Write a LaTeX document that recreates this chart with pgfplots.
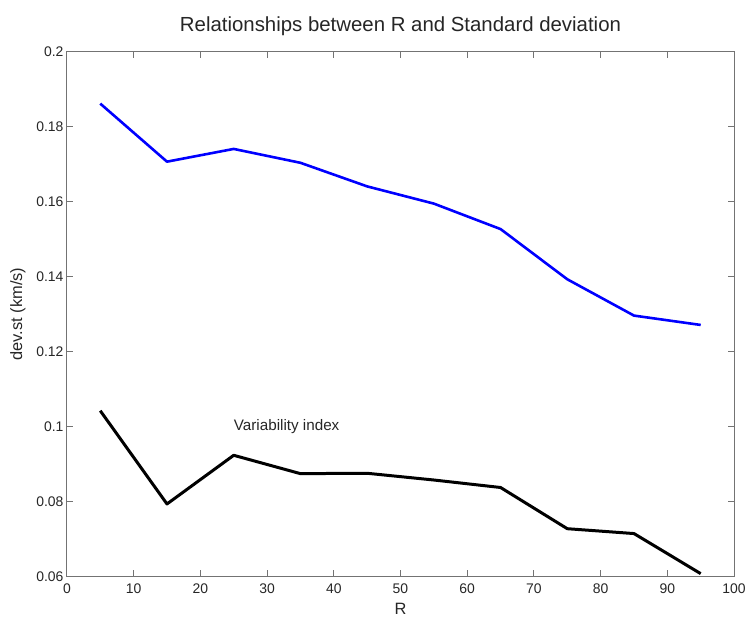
\documentclass[border=0pt]{standalone}
\usepackage{fontspec}
\setmainfont{Liberation Sans}
\usepackage{pgfplots}
\pgfplotsset{compat=1.18}
\begin{document}
\begin{tikzpicture}
\begin{axis}[
  at={(0,0)}, anchor=south west,
  scale only axis,
  width=668bp, height=525bp,
  xmin=0, xmax=100, ymin=0.06, ymax=0.2,
  xtick={0,10,...,100},
  ytick={0.06,0.08,0.1,0.12,0.14,0.16,0.18,0.2},
  yticklabels={0.06,0.08,0.1,0.12,0.14,0.16,0.18,0.2},
  /pgf/number format/assume math mode=true,
  tick align=inside,
  major tick length=6bp,
  axis line style={black!55, line width=0.9bp},
  tick style={black!55, line width=0.9bp},
  ticklabel style={font=\fontsize{14}{16}\selectfont, text=black!85},
  xticklabel style={yshift=-4bp},
  xlabel={R}, ylabel={dev.st (km/s)},
  label style={font=\fontsize{16.5}{18}\selectfont, text=black!85},
  xlabel style={yshift=-3bp},
  ylabel style={yshift=4bp},
  title={Relationships between R and Standard deviation},
  title style={font=\fontsize{20.5}{23}\selectfont, text=black!85, yshift=7bp},
  clip=false,
]
\addplot[blue, line width=2.6bp, line join=round] coordinates {
(5,0.1862) (15,0.1707) (25,0.1741) (35,0.1704) (45,0.1641)
(55,0.1595) (65,0.1527) (75,0.1393) (85,0.1296) (95,0.1271)
};
\addplot[black, line width=3bp, line join=round] coordinates {
(5,0.1042) (15,0.0793) (25,0.0923) (35,0.0874) (45,0.0875)
(55,0.0857) (65,0.0837) (75,0.0727) (85,0.0714) (95,0.0607)
};
\node[anchor=west, font=\fontsize{15.3}{17}\selectfont, text=black!85, inner sep=0pt] at (axis cs:25,0.1) {Variability index};
\end{axis}
\useasboundingbox (-67bp,-45bp) rectangle (682bp,577bp);
\end{tikzpicture}
\end{document}
